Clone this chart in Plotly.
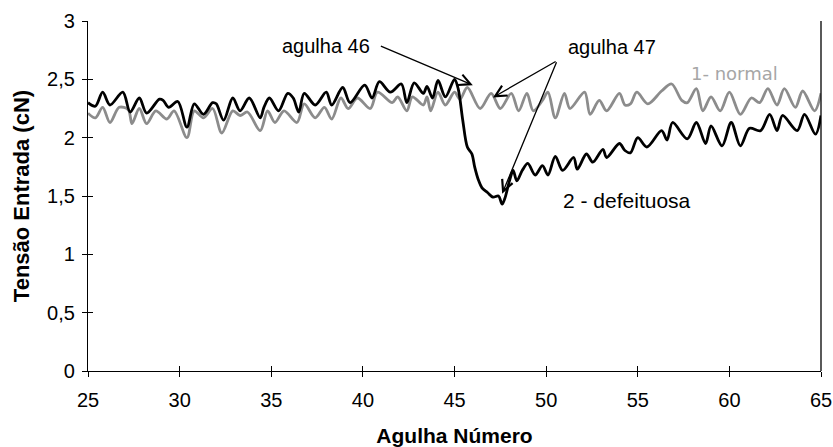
import plotly.graph_objects as go

# Agulha 25..65 - tensão de entrada (cN) por agulha
agulha_normal = [25.0, 25.4, 25.8, 26.2, 26.7, 27.2, 27.4, 27.8, 28.2, 28.7, 29.3, 29.7,
                 30.4, 30.8, 31.3, 31.8, 32.3, 32.9, 33.3, 33.7, 34.4, 34.8, 35.2, 35.7,
                 36.4, 36.8, 37.4, 37.9, 38.3, 38.8, 39.2, 39.7, 40.4, 40.8, 41.6, 41.9,
                 42.4, 42.7, 43.3, 43.5, 43.7, 44.1, 44.5, 45.0, 45.3, 45.7, 46.4, 47.0,
                 47.5, 48.1, 48.5, 48.95, 49.3, 49.8, 50.1, 50.5, 51.0, 51.3, 52.1, 52.4,
                 52.9, 53.3, 54.0, 54.3, 54.6, 54.95, 55.55, 56.3, 56.85, 57.4, 57.7, 58.2,
                 58.55, 59.0, 59.5, 60.0, 60.6, 61.2, 61.65, 62.1, 62.6, 63.0, 63.6, 64.0,
                 64.65, 65.0]
tensao_normal = [2.21, 2.17, 2.26, 2.13, 2.26, 2.24, 2.12, 2.25, 2.12, 2.23, 2.16, 2.23,
                 2.00, 2.23, 2.17, 2.25, 2.04, 2.23, 2.19, 2.22, 2.06, 2.23, 2.13, 2.23,
                 2.13, 2.29, 2.17, 2.26, 2.16, 2.34, 2.25, 2.34, 2.25, 2.39, 2.30, 2.35,
                 2.23, 2.35, 2.28, 2.35, 2.23, 2.39, 2.28, 2.39, 2.33, 2.43, 2.25, 2.38,
                 2.25, 2.38, 2.23, 2.38, 2.23, 2.32, 2.39, 2.17, 2.38, 2.25, 2.39, 2.20,
                 2.32, 2.23, 2.38, 2.28, 2.29, 2.39, 2.29, 2.40, 2.46, 2.32, 2.30, 2.42,
                 2.23, 2.35, 2.23, 2.39, 2.20, 2.34, 2.30, 2.42, 2.28, 2.42, 2.26, 2.40,
                 2.23, 2.38]

agulha_defeito = [25.0, 25.4, 25.8, 26.2, 26.9, 27.3, 27.8, 28.2, 28.9, 29.1, 29.4, 29.9,
                  30.4, 30.8, 31.3, 31.8, 32.0, 32.4, 32.9, 33.3, 33.8, 34.4, 34.6, 34.9,
                  35.4, 35.9, 36.2, 36.5, 36.8, 37.4, 38.0, 38.3, 38.9, 39.3, 40.1, 40.5,
                  40.9, 41.5, 42.1, 42.4, 42.8, 43.3, 43.5, 43.8, 44.1, 44.5, 45.0, 45.2,
                  45.45, 45.7, 45.95, 46.1, 46.3, 46.5, 46.8, 47.1, 47.4, 47.6, 47.75, 48.0,
                  48.2, 48.4, 48.7, 49.0, 49.4, 49.8, 50.1, 50.5, 50.9, 51.5, 51.7, 52.2,
                  52.55, 53.1, 53.3, 54.0, 54.3, 54.6, 55.0, 55.5, 56.3, 56.6, 56.9, 57.7,
                  58.2, 58.7, 59.0, 59.6, 60.1, 60.6, 61.1, 61.7, 62.2, 62.6, 62.9, 63.7,
                  64.1, 64.7, 65.0]
tensao_defeito = [2.30, 2.27, 2.39, 2.28, 2.39, 2.22, 2.34, 2.21, 2.33, 2.32, 2.26, 2.31,
                  2.09, 2.29, 2.20, 2.30, 2.29, 2.15, 2.34, 2.23, 2.34, 2.17, 2.26, 2.34,
                  2.23, 2.38, 2.34, 2.22, 2.38, 2.28, 2.39, 2.28, 2.43, 2.30, 2.45, 2.34,
                  2.48, 2.39, 2.46, 2.30, 2.47, 2.38, 2.44, 2.34, 2.49, 2.35, 2.50, 2.42,
                  2.15, 1.92, 1.86, 1.75, 1.64, 1.57, 1.53, 1.49, 1.50, 1.43, 1.48, 1.63,
                  1.72, 1.63, 1.72, 1.78, 1.68, 1.76, 1.68, 1.84, 1.72, 1.83, 1.73, 1.86,
                  1.79, 1.90, 1.83, 1.95, 1.89, 1.87, 2.00, 1.92, 2.06, 1.98, 2.13, 1.99,
                  2.13, 1.95, 2.10, 1.93, 2.13, 1.93, 2.08, 2.06, 2.20, 2.06, 2.19, 2.06,
                  2.20, 2.03, 2.19]

x_ticks = [25, 30, 35, 40, 45, 50, 55, 60, 65]
y_ticks = [0, 0.5, 1, 1.5, 2, 2.5, 3]
y_tick_text = ["0", "0,5", "1", "1,5", "2", "2,5", "3"]

FONT = "Liberation Sans, Arial, sans-serif"

fig = go.Figure()
fig.add_trace(go.Scatter(x=agulha_normal, y=tensao_normal, mode="lines",
                         line=dict(color="#8c8c8c", width=2.8, shape="spline", smoothing=0.9),
                         name="1- normal", showlegend=False))
fig.add_trace(go.Scatter(x=agulha_defeito, y=tensao_defeito, mode="lines",
                         line=dict(color="#000000", width=2.8, shape="spline", smoothing=0.9),
                         name="2 - defeituosa", showlegend=False))

axis_common = dict(showgrid=False, zeroline=False, showline=True, linecolor="black",
                   linewidth=1.3, tickcolor="black", ticklen=5, tickwidth=1.3,
                   automargin=False)

fig.update_layout(
    width=833, height=447,
    margin=dict(l=88, r=12, t=21, b=76),
    paper_bgcolor="white", plot_bgcolor="white",
    font=dict(family=FONT, size=20, color="black"),
    xaxis=dict(range=[25, 65], tickvals=x_ticks, ticks="outside", ticklabelstandoff=6,
               tickfont=dict(size=20),
               title=dict(text="<b>Agulha Número</b>", font=dict(size=21), standoff=18),
               **axis_common),
    yaxis=dict(range=[0, 3], tickvals=y_ticks, ticktext=y_tick_text, ticks="outside",
               tickfont=dict(size=20), ticklabelstandoff=3,
               title=dict(text="<b>Tensão Entrada (cN)</b>", font=dict(size=22), standoff=11),
               **axis_common),
    xaxis2=dict(range=[25, 65], overlaying="x", anchor="y", side="bottom",
                tickvals=x_ticks, ticks="inside", showticklabels=False, **axis_common),
    yaxis2=dict(range=[0, 3], overlaying="y", anchor="x", side="left",
                tickvals=y_ticks, ticks="inside", showticklabels=False, **axis_common),
)

# invisible helper trace so the inside-tick axes are drawn
fig.add_trace(go.Scatter(x=[25], y=[0], xaxis="x2", yaxis="y2", mode="markers",
                         marker=dict(opacity=0), showlegend=False, hoverinfo="skip"))

# right border of the plot area
fig.add_shape(type="line", xref="paper", yref="paper", x0=1, x1=1, y0=0, y1=1,
              line=dict(color="black", width=1.3))

arrow = dict(showarrow=True, arrowhead=5, arrowsize=1.7, arrowwidth=1.3, arrowcolor="black",
             axref="x", ayref="y", text="", standoff=0, startstandoff=0)
fig.add_annotation(x=46.0, y=2.45, ax=40.9, ay=2.79, **arrow)
fig.add_annotation(x=47.1, y=2.345, ax=50.6, ay=2.66, **arrow)
fig.add_annotation(x=47.6, y=1.52, ax=50.6, ay=2.66, **arrow)

fig.add_annotation(x=38.0, y=2.79, text="agulha 46", showarrow=False,
                   font=dict(size=20, color="black"))
fig.add_annotation(x=53.6, y=2.78, text="agulha 47", showarrow=False,
                   font=dict(size=20, color="black"))
fig.add_annotation(x=60.3, y=2.55, text="1- normal", showarrow=False,
                   font=dict(size=18, color="#a6a6a6", family="DejaVu Sans, sans-serif"))
fig.add_annotation(x=54.4, y=1.46, text="2 - defeituosa", showarrow=False,
                   font=dict(size=21, color="black"))

fig.write_html("out.html")
